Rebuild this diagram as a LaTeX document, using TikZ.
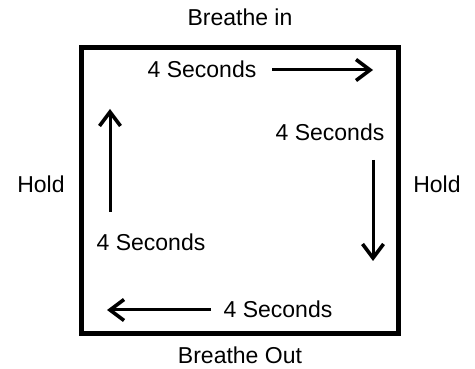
\documentclass[tikz,border=0pt]{standalone}
\usepackage{fontspec}
\setmainfont{Liberation Sans}
\usetikzlibrary{arrows.meta, positioning}

\begin{document}
\begin{tikzpicture}[x=1pt, y=-1pt, font=\fontsize{23}{27}\selectfont,
    arr/.style={line width=3pt, -{Straight Barb[length=14pt, width=21pt, line width=3.6pt]}},
    lbl/.style={inner sep=0pt, anchor=base}]
    \useasboundingbox (0, 0) rectangle (475, 369);
    % square
    \node[draw, line width=5pt, minimum width=317pt, minimum height=285pt, inner sep=0pt]
        (box) at (239.5, 190.5) {};
    % phases
    \node[lbl] (in) at (240, 26) {Breathe in};
    \node[lbl] (out) at (240, 363) {Breathe Out};
    \node[lbl] (holdl) at (41, 193) {Hold};
    \node[lbl] (holdr) at (437, 193) {Hold};
    % durations
    \node[lbl] (secin) at (202, 78) {4 Seconds};
    \node[lbl] (secr) at (330, 141) {4 Seconds};
    \node[lbl] (secl) at (151, 251) {4 Seconds};
    \node[lbl] (secout) at (278, 318) {4 Seconds};
    % arrows
    \coordinate (ina) at (272, 70);
    \coordinate (inb) at (373, 70);
    \coordinate (ra) at (373, 160);
    \coordinate (rb) at (373, 261);
    \coordinate (outa) at (211, 310);
    \coordinate (outb) at (107, 310);
    \coordinate (la) at (110, 212);
    \coordinate (lb) at (110, 109);
    \draw[arr] (ina) -- (inb);
    \draw[arr] (ra) -- (rb);
    \draw[arr] (outa) -- (outb);
    \draw[arr] (la) -- (lb);
\end{tikzpicture}
\end{document}
